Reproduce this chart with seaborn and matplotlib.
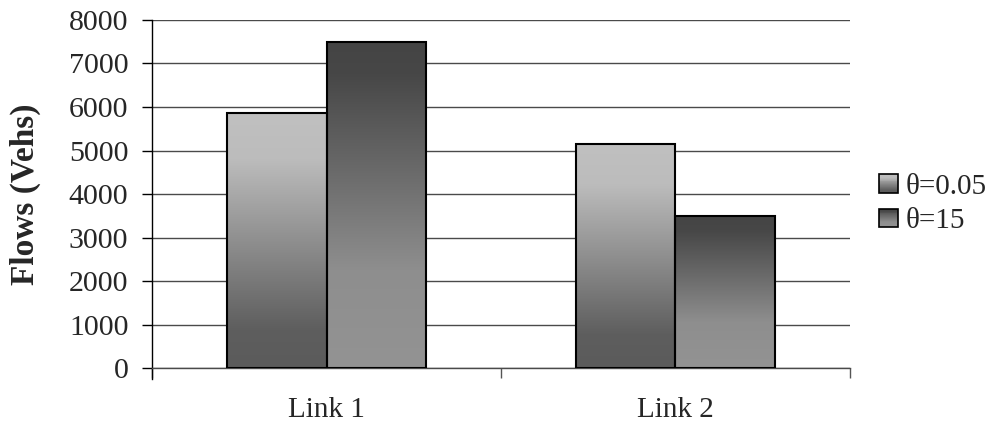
import matplotlib
matplotlib.use('Agg')
import matplotlib.pyplot as plt
import numpy as np
import pandas as pd
import seaborn as sns
from matplotlib.colors import LinearSegmentedColormap
from matplotlib.legend_handler import HandlerBase
from matplotlib.patches import Rectangle

links = ['Link 1', 'Link 2']
series = ['θ=0.05', 'θ=15']
flows_005 = [5860, 5140]
flows_15 = [7500, 3500]

df = pd.DataFrame({
    'link': links * 2,
    'theta': [series[0]] * 2 + [series[1]] * 2,
    'flow': flows_005 + flows_15,
})

# gradients, top of bar -> bottom of bar
grad = {
    series[0]: LinearSegmentedColormap.from_list(
        'g1', [(0, '#c0c0c0'), (0.18, '#bcbcbc'), (0.85, '#5e5e5e'), (1, '#5b5b5b')]),
    series[1]: LinearSegmentedColormap.from_list(
        'g2', [(0, '#444444'), (0.1, '#474747'), (0.7, '#8e8e8e'), (1, '#939393')]),
}

sns.set_style('white')
plt.rcParams['font.family'] = ['Liberation Serif', 'DejaVu Serif']

fig = plt.figure(figsize=(9.91, 4.25), dpi=100)
ax = fig.add_axes([0.1534, 0.134, 0.7043, 0.819])

sns.barplot(data=df, x='link', y='flow', hue='theta', hue_order=series,
            width=0.573, palette=['#999999', '#999999'], edgecolor='black',
            linewidth=1.5, saturation=1, legend=False, ax=ax, zorder=3)

ramp = np.linspace(0, 1, 256).reshape(-1, 1)
bars = [p for p in ax.patches if isinstance(p, Rectangle)]
for i, p in enumerate(bars):
    s = series[i // len(links)]
    x0, y0, w, h = p.get_x(), p.get_y(), p.get_width(), p.get_height()
    p.set_facecolor('none')
    ax.imshow(ramp, cmap=grad[s], extent=[x0, x0 + w, y0, y0 + h],
              origin='upper', aspect='auto', zorder=2.9, interpolation='bilinear')

ax.set_xlim(-0.5, 1.5)
ax.set_ylim(0, 8000)
ax.set_yticks(range(0, 8001, 1000))
ax.yaxis.grid(True, color='#4a4a4a', linewidth=1)
ax.set_axisbelow(True)
for s in ['top', 'right']:
    ax.spines[s].set_visible(False)
ax.spines['left'].set_color('black')
ax.spines['left'].set_linewidth(1)
ax.spines['bottom'].set_color('#4a4a4a')
ax.spines['bottom'].set_linewidth(1)
ax.spines['left'].set_bounds(-250, 8000)

ax.tick_params(axis='y', direction='out', length=7, width=1, color='black',
               labelsize=21.5, left=True, pad=10)
ax.tick_params(axis='x', which='major', length=0, labelsize=21, pad=21)
ax.set_xticks([-0.5, 0.5, 1.5], minor=True)
ax.tick_params(axis='x', which='minor', direction='out', length=7, width=1,
               color='#555555', bottom=True)

ax.set_xlabel('')
ax.set_ylabel('Flows (Vehs)', fontsize=24, fontweight='bold', labelpad=20)


class GradHandler(HandlerBase):
    def __init__(self, cmap):
        super().__init__()
        self.cmap = cmap

    def create_artists(self, legend, orig, xdescent, ydescent, width, height, fontsize, trans):
        side = height * 1.0
        x0 = xdescent + width - side
        y0 = -ydescent
        arts = []
        n = 20
        for k in range(n):
            c = self.cmap(1 - (k + 0.5) / n)
            arts.append(Rectangle((x0, y0 + side * k / n), side, side / n + 0.2,
                                  facecolor=c, edgecolor='none', transform=trans))
        arts.append(Rectangle((x0, y0), side, side, facecolor='none',
                              edgecolor='black', linewidth=1.2, transform=trans))
        return arts


handles = [Rectangle((0, 0), 1, 1) for _ in series]
fig.legend(handles, series, loc='center left', bbox_to_anchor=(0.862, 0.52),
           frameon=False, fontsize=21, handlelength=0.6, handleheight=0.6,
           handletextpad=0.25, labelspacing=0.3,
           handler_map={h: GradHandler(grad[s]) for h, s in zip(handles, series)})

fig.savefig('out.png', dpi=100)
